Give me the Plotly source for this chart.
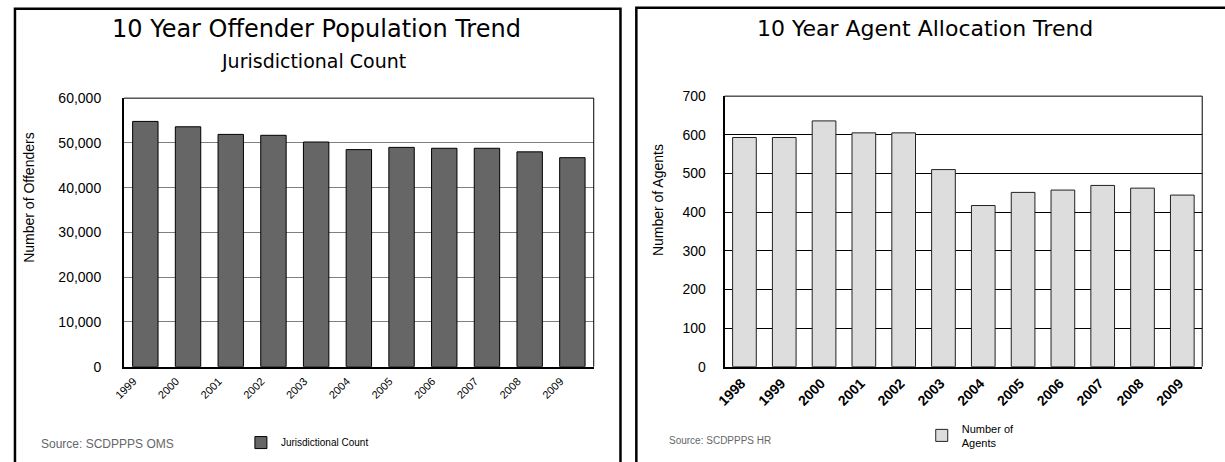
import plotly.graph_objects as go

# ---- data ----
off_years = ["1999", "2000", "2001", "2002", "2003", "2004", "2005", "2006", "2007", "2008", "2009"]
off_counts = [54800, 53600, 51900, 51700, 50200, 48500, 49000, 48800, 48800, 48000, 46700]

agent_years = ["1998", "1999", "2000", "2001", "2002", "2003", "2004", "2005", "2006", "2007", "2008", "2009"]
agent_counts = [593, 593, 636, 605, 605, 510, 417, 451, 457, 469, 462, 444]

off_ticks = [0, 10000, 20000, 30000, 40000, 50000, 60000]
agent_ticks = [0, 100, 200, 300, 400, 500, 600, 700]

W, H = 1225, 462
FONT = "Liberation Sans, Arial, sans-serif"
WIDE = "DejaVu Sans, Verdana, sans-serif"
NARROW = "Liberation Sans Narrow, Arial Narrow, Liberation Sans, Arial, sans-serif"


def px(x):
    # target screen x -> paper coordinate (small empirical correction)
    return (x - 4) / W


def py(y):
    # target screen y -> paper coordinate (small empirical correction)
    ys = (y - 6.7) / 0.967
    return 1 - ys / H


fig = go.Figure()

fig.add_trace(go.Bar(
    x=off_years, y=off_counts, name="Jurisdictional Count",
    marker=dict(color="#666666", line=dict(color="#000000", width=1)),
    xaxis="x", yaxis="y", legend="legend",
))
fig.add_trace(go.Bar(
    x=agent_years, y=agent_counts, name="Number of<br>Agents",
    marker=dict(color="#dddddd", line=dict(color="#222222", width=1)),
    xaxis="x2", yaxis="y2", legend="legend2",
))

# plot areas (pixel positions)
L = dict(x0=118, x1=592, y0=366, y1=97)
R = dict(x0=724, x1=1206, y0=366, y1=95)

axis_common = dict(showline=True, linecolor="#000000", linewidth=2, ticks="",
                   zeroline=False, fixedrange=True)

fig.update_layout(
    width=W, height=H,
    margin=dict(l=0, r=0, t=0, b=0),
    paper_bgcolor="#ffffff", plot_bgcolor="#ffffff",
    font=dict(family=FONT, color="#000000"),
    bargap=0.405,
    xaxis=dict(domain=[px(L["x0"]), px(L["x1"])], anchor="y", tickangle=-45,
               tickfont=dict(size=11, family=FONT), ticklabelshift=-12, ticklabelstandoff=2,
               showgrid=False, **axis_common),
    yaxis=dict(domain=[py(L["y0"]), py(L["y1"])], anchor="x", range=[0, 60000],
               tickvals=off_ticks, tickformat=",d", tickfont=dict(size=14, family=FONT),
               ticklabelstandoff=18,
               showgrid=True, gridcolor="#808080", gridwidth=1, **axis_common),
    xaxis2=dict(domain=[px(R["x0"]), px(R["x1"])], anchor="y2", tickangle=-45,
                tickfont=dict(size=14, family=FONT, weight="bold"), ticklabelstandoff=1,
                ticklabelshift=-3,
                showgrid=False, **axis_common),
    yaxis2=dict(domain=[py(R["y0"]), py(R["y1"])], anchor="x2", range=[0, 700],
                tickvals=agent_ticks, tickfont=dict(size=14, family=FONT),
                ticklabelstandoff=14,
                showgrid=True, gridcolor="#000000", gridwidth=1, **axis_common),
    legend=dict(x=px(236), y=py(442), xanchor="left", yanchor="middle",
                bgcolor="rgba(0,0,0,0)", font=dict(size=10, family=FONT)),
    legend2=dict(x=px(923), y=py(435), xanchor="left", yanchor="middle",
                 bgcolor="rgba(0,0,0,0)", font=dict(size=11, family=FONT)),
    showlegend=True,
)

shapes = []
# outer boxes (extend past bottom of page)
shapes.append(dict(type="path", xref="paper", yref="paper",
                   path=f"M {px(8)},{py(480)} L {px(8)},{py(7.5)} L {px(619)},{py(7.5)} L {px(619)},{py(480)}",
                   line=dict(color="#000000", width=2.5)))
shapes.append(dict(type="path", xref="paper", yref="paper",
                   path=f"M {px(635)},{py(480)} L {px(635)},{py(6.5)} L {px(1235)},{py(6.5)}",
                   line=dict(color="#000000", width=2.5)))
# thin plot frame (top & right)
for P in (L, R):
    shapes.append(dict(type="path", xref="paper", yref="paper",
                       path=f"M {px(P['x0'])},{py(P['y1'])} L {px(P['x1'])},{py(P['y1'])} L {px(P['x1'])},{py(P['y0'])}",
                       line=dict(color="#000000", width=1)))
fig.update_layout(shapes=shapes)

ann = [
    dict(text="10 Year Offender Population Trend", x=px(312), y=py(28), size=24),
    dict(text="Jurisdictional Count", x=px(309), y=py(60), size=19),
    dict(text="10 Year Agent Allocation Trend", x=px(926), y=py(27), size=22),
]
annotations = []
for a in ann:
    annotations.append(dict(text=a["text"], x=a["x"], y=a["y"], xref="paper", yref="paper",
                            xanchor="center", yanchor="middle", showarrow=False,
                            font=dict(size=a["size"], family=WIDE, color="#000000")))
annotations.append(dict(text="Number of Offenders", x=px(22), y=py(197), xref="paper", yref="paper",
                        textangle=-90, showarrow=False, xanchor="center", yanchor="middle",
                        font=dict(size=14, family=NARROW, color="#000000")))
annotations.append(dict(text="Number of Agents", x=px(657), y=py(199), xref="paper", yref="paper",
                        textangle=-90, showarrow=False, xanchor="center", yanchor="middle",
                        font=dict(size=14, family=NARROW, color="#000000")))
annotations.append(dict(text="Source: SCDPPPS OMS", x=px(32), y=py(443), xref="paper", yref="paper",
                        xanchor="left", yanchor="middle", showarrow=False,
                        font=dict(size=12, family=FONT, color="#666666")))
annotations.append(dict(text="Source: SCDPPPS HR", x=px(666), y=py(440), xref="paper", yref="paper",
                        xanchor="left", yanchor="middle", showarrow=False,
                        font=dict(size=10, family=FONT, color="#666666")))
fig.update_layout(annotations=annotations)

fig.write_html("out.html", config={"displayModeBar": False},
               post_script="document.body.style.margin='0';")
